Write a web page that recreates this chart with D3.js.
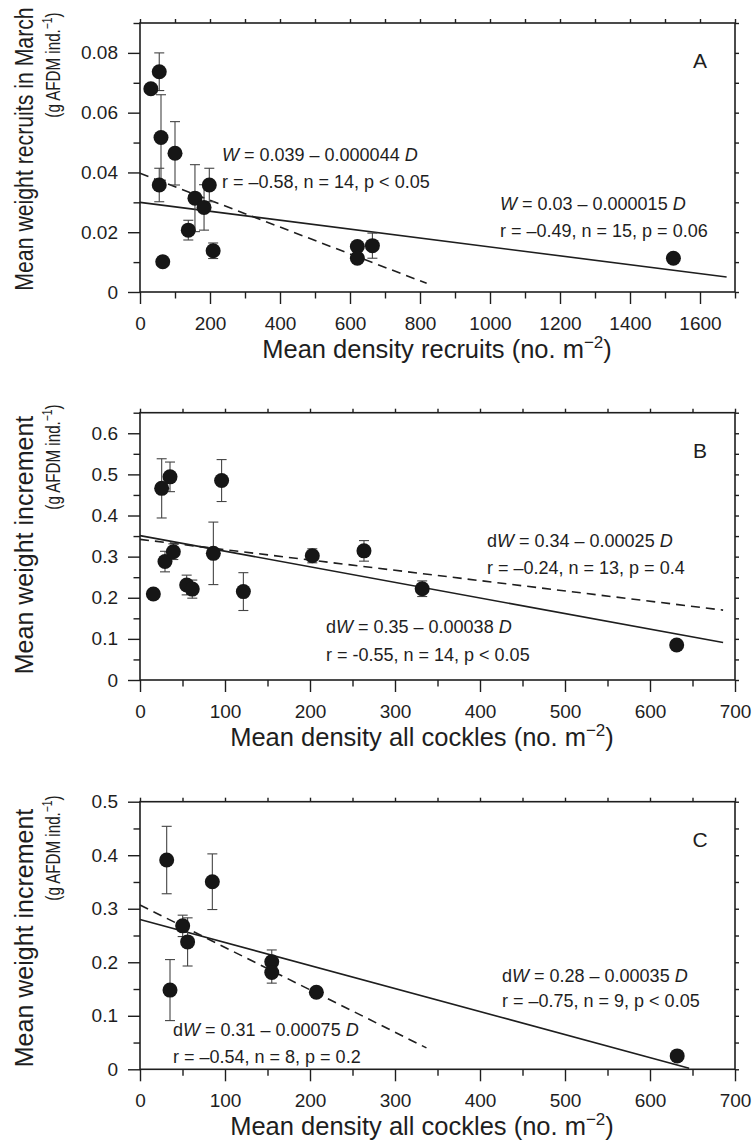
<!DOCTYPE html>
<html>
<head>
<meta charset="utf-8">
<script src="https://cdn.jsdelivr.net/npm/d3@7"></script>
<style>
  body { margin: 0; background: #fff; }
  svg { display: block; }
  text { font-family: "Liberation Sans", Arial, Helvetica, sans-serif; fill: #1e1e1e; }
</style>
</head>
<body>
<script>
// ---- panel A: recruits ----
const densityA = [31, 55, 60, 100, 55, 65, 157, 183, 138, 198, 209, 621, 621, 664, 1524];
const weightA  = [0.068, 0.0737, 0.0517, 0.0464, 0.0358, 0.0101, 0.0314, 0.0283, 0.0207, 0.0358, 0.0138, 0.0152, 0.0113, 0.0155, 0.0113];
const errA     = [0, 0.0063, 0.0143, 0.0106, 0.0056, 0, 0.0112, 0.0076, 0.0033, 0.0056, 0.0026, 0, 0, 0.0042, 0];
const solidA   = [[0, 0.030], [1676, 0.005]];
const dashedA  = [[0, 0.0397], [819, 0.0029]];

// ---- panel B: all cockles, weight increment ----
const densityB = [15.7, 25.5, 35.3, 96, 29.4, 39.2, 54.9, 61.5, 86.3, 121.6, 202.7, 263.5, 332, 631.4];
const weightB  = [0.209, 0.466, 0.494, 0.485, 0.288, 0.312, 0.231, 0.221, 0.308, 0.215, 0.302, 0.314, 0.222, 0.085];
const errB     = [0, 0.072, 0.036, 0.051, 0.025, 0.019, 0.024, 0.022, 0.076, 0.046, 0.017, 0.025, 0.019, 0];
const solidB   = [[0, 0.351], [686, 0.091]];
const dashedB  = [[0, 0.342], [686, 0.170]];

// ---- panel C ----
const densityC = [31.4, 85.1, 50.2, 56, 35.3, 155, 155, 207.5, 632];
const weightC  = [0.391, 0.3505, 0.268, 0.238, 0.148, 0.201, 0.181, 0.144, 0.025];
const errC     = [0.063, 0.052, 0.02, 0.045, 0.057, 0.022, 0.02, 0, 0];
const solidC   = [[0, 0.280], [646, 0.002]];
const dashedC  = [[0, 0.307], [337, 0.040]];

// ticks
const xMajorA = [0, 200, 400, 600, 800, 1000, 1200, 1400, 1600];
const xMinorA = [100, 300, 500, 700, 900, 1100, 1300, 1500, 1700];
const xMajorBC = [0, 100, 200, 300, 400, 500, 600, 700];
const xMinorBC = [50, 150, 250, 350, 450, 550, 650];
const yMajorA = [0, 0.02, 0.04, 0.06, 0.08];
const yMinorA = [0.01, 0.03, 0.05, 0.07, 0.09];
const yLabelsA = ["0", "0.02", "0.04", "0.06", "0.08"];
const yMajorB = [0, 0.1, 0.2, 0.3, 0.4, 0.5, 0.6];
const yMinorB = [0.05, 0.15, 0.25, 0.35, 0.45, 0.55, 0.65];
const yLabelsB = ["0", "0.1", "0.2", "0.3", "0.4", "0.5", "0.6"];
const yMajorC = [0, 0.1, 0.2, 0.3, 0.4, 0.5];
const yMinorC = [0.05, 0.15, 0.25, 0.35, 0.45];
const yLabelsC = ["0", "0.1", "0.2", "0.3", "0.4", "0.5"];

const W = 754, H = 1144;
const left = 140, right = 735;
const ink = "#1e1e1e";

const svg = d3.select("body").append("svg")
  .attr("width", W).attr("height", H);

function drawPanel(p) {
  const x = d3.scaleLinear().domain(p.xDomain).range([left, right]);
  const y = d3.scaleLinear().domain(p.yDomain).range([p.bottom, p.top]);
  const g = svg.append("g");

  // frame
  g.append("rect")
    .attr("x", left).attr("y", p.top)
    .attr("width", right - left).attr("height", p.bottom - p.top)
    .attr("fill", "none").attr("stroke", ink).attr("stroke-width", 1.6);

  function styleAxis(sel) {
    sel.select(".domain").remove();
    sel.selectAll("line").attr("stroke", ink).attr("stroke-width", 1.4);
  }

  // bottom axis
  g.append("g").attr("transform", `translate(0,${p.bottom})`)
    .call(d3.axisBottom(x).tickValues(p.xMajor).tickSize(12).tickFormat(d => d))
    .call(styleAxis)
    .call(s => s.selectAll("text").attr("y", 38).attr("dy", null)
      .attr("font-size", 19).attr("fill", ink).attr("font-family", null));
  g.append("g").attr("transform", `translate(0,${p.bottom})`)
    .call(d3.axisBottom(x).tickValues(p.xMinor).tickSize(6.5).tickFormat(""))
    .call(styleAxis);

  // left axis
  g.append("g").attr("transform", `translate(${left},0)`)
    .call(d3.axisLeft(y).tickValues(p.yMajor).tickSize(12).tickFormat((d, i) => p.yLabels[i]))
    .call(styleAxis)
    .call(s => s.selectAll("text").attr("x", -22)
      .attr("font-size", 19).attr("fill", ink).attr("font-family", null));
  g.append("g").attr("transform", `translate(${left},0)`)
    .call(d3.axisLeft(y).tickValues(p.yMinor).tickSize(6.5).tickFormat(""))
    .call(styleAxis);

  // top and right small ticks
  g.append("g").attr("transform", `translate(0,${p.top})`)
    .call(d3.axisTop(x).tickValues(p.xMajor.concat(p.xMinor)).tickSize(4).tickFormat(""))
    .call(styleAxis);
  g.append("g").attr("transform", `translate(${right},0)`)
    .call(d3.axisRight(y).tickValues(p.yMajor.concat(p.yMinor)).tickSize(4).tickFormat(""))
    .call(styleAxis);

  // regression lines
  const line = d3.line().x(d => x(d[0])).y(d => y(d[1]));
  g.append("path").attr("d", line(p.solid))
    .attr("fill", "none").attr("stroke", ink).attr("stroke-width", 1.6);
  g.append("path").attr("d", line(p.dashed))
    .attr("fill", "none").attr("stroke", ink).attr("stroke-width", 1.6)
    .attr("stroke-dasharray", "9,6");

  // error bars
  const pts = p.xs.map((d, i) => ({ x: d, y: p.ys[i], e: p.es[i] }));
  const eb = g.selectAll(".eb").data(pts.filter(d => d.e > 0)).enter().append("g")
    .attr("stroke", "#444").attr("stroke-width", 1.1);
  eb.append("line")
    .attr("x1", d => x(d.x)).attr("x2", d => x(d.x))
    .attr("y1", d => y(d.y - d.e)).attr("y2", d => y(d.y + d.e));
  eb.append("line")
    .attr("x1", d => x(d.x) - 5).attr("x2", d => x(d.x) + 5)
    .attr("y1", d => y(d.y + d.e)).attr("y2", d => y(d.y + d.e));
  eb.append("line")
    .attr("x1", d => x(d.x) - 5).attr("x2", d => x(d.x) + 5)
    .attr("y1", d => y(d.y - d.e)).attr("y2", d => y(d.y - d.e));

  // points
  g.selectAll(".pt").data(pts).enter().append("circle")
    .attr("cx", d => x(d.x)).attr("cy", d => y(d.y))
    .attr("r", 7.5).attr("fill", "#161616");

  // panel letter
  g.append("text").attr("x", 700).attr("y", p.top + 45)
    .attr("text-anchor", "middle").attr("font-size", 21).text(p.letter);

  // annotations
  p.notes.forEach(n => {
    const t = g.append("text").attr("x", n.x).attr("y", n.y).attr("font-size", 18);
    n.parts.forEach(part => {
      t.append("tspan").attr("font-style", part[1] ? "italic" : null).text(part[0]);
    });
  });

  // x title
  const xt = g.append("text").attr("x", p.xTitleCenter).attr("y", p.bottom + 66)
    .attr("text-anchor", "middle").attr("font-size", 25.5);
  xt.append("tspan").text(p.xTitle + " (no. m");
  xt.append("tspan").attr("font-size", 17).attr("dy", -10).text("\u22122");
  xt.append("tspan").attr("dy", 10).text(")");

  // y title (condensed along the text direction where the original is squeezed)
  g.append("text")
    .attr("transform", `translate(33,${p.yTitleCenter}) rotate(-90) scale(${p.yTitleSqueeze},1)`)
    .attr("text-anchor", "middle").attr("font-size", 25).text(p.yTitle);
  const ys = g.append("text")
    .attr("transform", `translate(60,${p.ySubCenter}) rotate(-90) scale(0.74,1)`)
    .attr("text-anchor", "middle").attr("font-size", 20.5);
  ys.append("tspan").text("(g AFDM ind.");
  ys.append("tspan").attr("font-size", 14).attr("dy", -8).text("\u22121");
  ys.append("tspan").attr("dy", 8).text(")");
}

drawPanel({
  letter: "A", top: 23, bottom: 292,
  xDomain: [0, 1700], yDomain: [0, 0.09],
  xMajor: xMajorA, xMinor: xMinorA, yMajor: yMajorA, yMinor: yMinorA, yLabels: yLabelsA,
  xs: densityA, ys: weightA, es: errA, solid: solidA, dashed: dashedA,
  xTitle: "Mean density recruits", xTitleCenter: 437,
  yTitle: "Mean weight recruits in March", yTitleCenter: 149, yTitleSqueeze: 0.85, ySubCenter: 65,
  notes: [
    { x: 222, y: 161, parts: [["W", true], [" = 0.039 \u2013 0.000044 ", false], ["D", true]] },
    { x: 222, y: 188, parts: [["r = \u20130.58, n = 14, p < 0.05", false]] },
    { x: 500, y: 210, parts: [["W", true], [" = 0.03 \u2013 0.000015 ", false], ["D", true]] },
    { x: 500, y: 237, parts: [["r = \u20130.49, n = 15, p = 0.06", false]] }
  ]
});

drawPanel({
  letter: "B", top: 412.7, bottom: 680,
  xDomain: [0, 700], yDomain: [0, 0.65],
  xMajor: xMajorBC, xMinor: xMinorBC, yMajor: yMajorB, yMinor: yMinorB, yLabels: yLabelsB,
  xs: densityB, ys: weightB, es: errB, solid: solidB, dashed: dashedB,
  xTitle: "Mean density all cockles", xTitleCenter: 422,
  yTitle: "Mean weight increment", yTitleCenter: 545, yTitleSqueeze: 1, ySubCenter: 457,
  notes: [
    { x: 487, y: 547, parts: [["d", false], ["W", true], [" = 0.34 \u2013 0.00025 ", false], ["D", true]] },
    { x: 487, y: 574, parts: [["r = \u20130.24, n = 13, p = 0.4", false]] },
    { x: 326, y: 633, parts: [["d", false], ["W", true], [" = 0.35 \u2013 0.00038 ", false], ["D", true]] },
    { x: 326, y: 661, parts: [["r = -0.55, n = 14, p < 0.05", false]] }
  ]
});

drawPanel({
  letter: "C", top: 801.7, bottom: 1069.3,
  xDomain: [0, 700], yDomain: [0, 0.5],
  xMajor: xMajorBC, xMinor: xMinorBC, yMajor: yMajorC, yMinor: yMinorC, yLabels: yLabelsC,
  xs: densityC, ys: weightC, es: errC, solid: solidC, dashed: dashedC,
  xTitle: "Mean density all cockles", xTitleCenter: 422,
  yTitle: "Mean weight increment", yTitleCenter: 938, yTitleSqueeze: 1, ySubCenter: 848,
  notes: [
    { x: 502, y: 982, parts: [["d", false], ["W", true], [" = 0.28 \u2013 0.00035 ", false], ["D", true]] },
    { x: 502, y: 1007, parts: [["r = \u20130.75, n = 9, p < 0.05", false]] },
    { x: 173, y: 1036, parts: [["d", false], ["W", true], [" = 0.31 \u2013 0.00075 ", false], ["D", true]] },
    { x: 173, y: 1063, parts: [["r = \u20130.54, n = 8, p = 0.2", false]] }
  ]
});
</script>
</body>
</html>
